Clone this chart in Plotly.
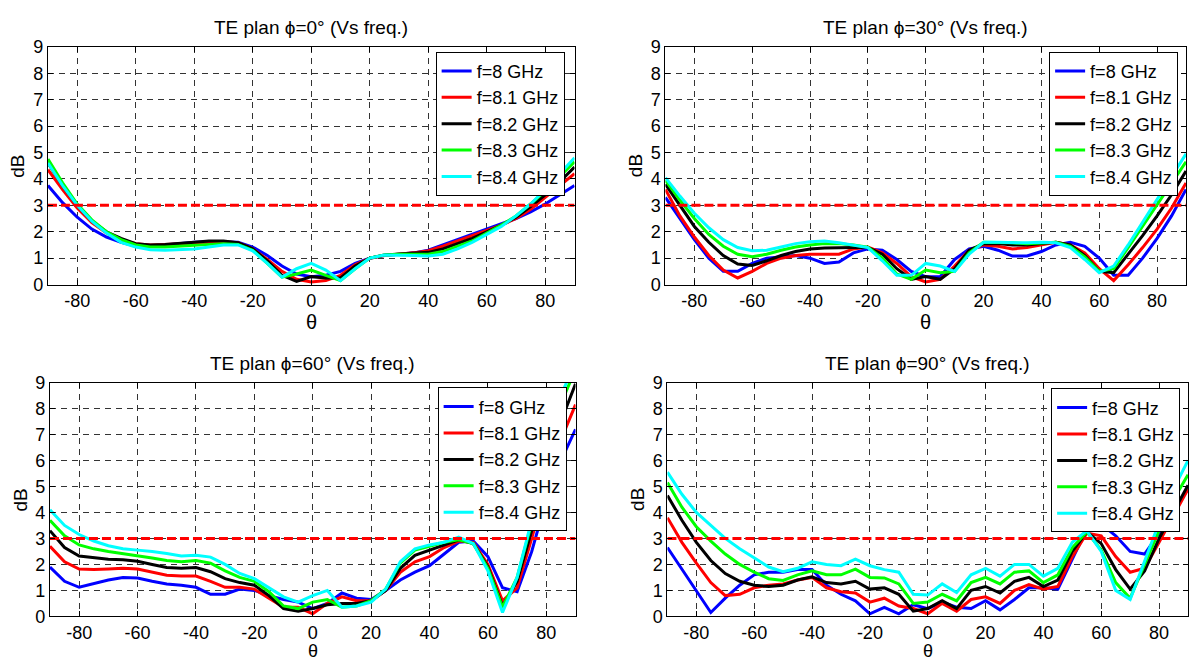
import plotly.graph_objects as go

theta = list(range(-90, 91, 5))
freq_labels = ["f=8 GHz", "f=8.1 GHz", "f=8.2 GHz", "f=8.3 GHz", "f=8.4 GHz"]
colors = ["#0000ff", "#ff0000", "#000000", "#00ff00", "#00ffff"]
titles = ["TE plan \u03d5=0° (Vs freq.)", "TE plan \u03d5=30° (Vs freq.)",
          "TE plan \u03d5=60° (Vs freq.)", "TE plan \u03d5=90° (Vs freq.)"]
threshold_x = [-90, 90]
threshold_y = [3, 3]
x_ticks = [-80, -60, -40, -20, 0, 20, 40, 60, 80]
x_tick_text = ["-80", "-60", "-40", "-20", "0", "20", "40", "60", "80"]
y_ticks = [0, 1, 2, 3, 4, 5, 6, 7, 8, 9]

# phi = 0 deg
phi0_f80 = [3.75, 3.1, 2.55, 2.1, 1.8, 1.6, 1.45, 1.45, 1.5, 1.55, 1.6, 1.62, 1.62, 1.6, 1.42, 1.1, 0.7, 0.4, 0.3, 0.35, 0.5, 0.8, 1.0, 1.1, 1.15, 1.2, 1.3, 1.5, 1.7, 1.9, 2.1, 2.3, 2.5, 2.75, 3.05, 3.4, 3.75]
phi0_f81 = [4.35, 3.6, 2.9, 2.35, 1.95, 1.7, 1.55, 1.5, 1.52, 1.55, 1.58, 1.6, 1.62, 1.58, 1.35, 0.95, 0.5, 0.2, 0.1, 0.15, 0.35, 0.75, 1.0, 1.1, 1.15, 1.2, 1.28, 1.45, 1.65, 1.85, 2.05, 2.25, 2.5, 2.85, 3.3, 3.75, 4.2]
phi0_f82 = [4.6, 3.75, 3.0, 2.4, 2.0, 1.75, 1.55, 1.5, 1.52, 1.55, 1.6, 1.65, 1.65, 1.58, 1.35, 0.9, 0.35, 0.12, 0.3, 0.25, 0.25, 0.7, 1.0, 1.12, 1.15, 1.18, 1.22, 1.35, 1.55, 1.75, 2.0, 2.25, 2.55, 2.95, 3.4, 3.9, 4.45]
phi0_f83 = [4.75, 3.85, 3.05, 2.45, 2.0, 1.7, 1.5, 1.42, 1.42, 1.45, 1.48, 1.52, 1.55, 1.52, 1.3, 0.8, 0.28, 0.4, 0.55, 0.35, 0.15, 0.6, 1.0, 1.12, 1.15, 1.15, 1.15, 1.25, 1.45, 1.65, 1.95, 2.25, 2.6, 3.05, 3.55, 4.1, 4.65]
phi0_f84 = [4.6, 3.75, 3.0, 2.4, 1.95, 1.6, 1.42, 1.32, 1.3, 1.32, 1.35, 1.42, 1.5, 1.5, 1.28, 0.8, 0.28, 0.6, 0.8, 0.55, 0.15, 0.6, 1.0, 1.12, 1.12, 1.1, 1.08, 1.15, 1.35, 1.6, 1.9, 2.2, 2.6, 3.05, 3.6, 4.2, 4.8]

# phi = 30 deg
phi30_f80 = [3.3, 2.5, 1.7, 1.0, 0.5, 0.5, 0.8, 1.0, 1.05, 1.1, 1.0, 0.8, 0.85, 1.2, 1.35, 1.3, 0.95, 0.5, 0.3, 0.3, 0.95, 1.35, 1.45, 1.3, 1.08, 1.08, 1.25, 1.5, 1.6, 1.45, 1.0, 0.35, 0.35, 1.0, 1.75, 2.6, 3.6]
phi30_f81 = [3.6, 2.6, 1.8, 1.1, 0.55, 0.25, 0.5, 0.8, 1.0, 1.1, 1.15, 1.15, 1.15, 1.35, 1.42, 1.2, 0.8, 0.3, 0.1, 0.2, 0.7, 1.3, 1.5, 1.45, 1.35, 1.4, 1.5, 1.6, 1.5, 1.2, 0.6, 0.15, 0.75, 1.4, 2.1, 2.9, 3.85]
phi30_f82 = [3.8, 3.0, 2.2, 1.6, 1.1, 0.78, 0.72, 0.9, 1.1, 1.25, 1.35, 1.38, 1.4, 1.4, 1.4, 1.15, 0.6, 0.2, 0.3, 0.2, 0.6, 1.3, 1.55, 1.55, 1.5, 1.5, 1.55, 1.6, 1.5, 1.1, 0.5, 0.45, 1.15, 1.85, 2.6, 3.4, 4.3]
phi30_f83 = [3.95, 3.2, 2.5, 1.9, 1.45, 1.15, 1.05, 1.15, 1.3, 1.42, 1.5, 1.55, 1.55, 1.5, 1.42, 1.0, 0.4, 0.2, 0.55, 0.45, 0.5, 1.2, 1.6, 1.6, 1.58, 1.55, 1.58, 1.6, 1.45, 1.05, 0.5, 0.6, 1.4, 2.2, 3.0, 3.8, 4.65]
phi30_f84 = [4.05, 3.35, 2.7, 2.15, 1.7, 1.4, 1.28, 1.3, 1.42, 1.55, 1.62, 1.65, 1.58, 1.5, 1.4, 0.9, 0.35, 0.35, 0.8, 0.7, 0.5, 1.15, 1.6, 1.6, 1.58, 1.58, 1.6, 1.58, 1.4, 0.95, 0.45, 0.7, 1.5, 2.35, 3.2, 4.05, 4.95]

# phi = 60 deg
phi60_f80 = [1.9, 1.35, 1.12, 1.25, 1.4, 1.5, 1.48, 1.35, 1.25, 1.2, 1.12, 0.85, 0.85, 1.05, 1.0, 0.8, 0.65, 0.55, 0.3, 0.5, 0.9, 0.7, 0.65, 1.0, 1.4, 1.7, 1.95, 2.4, 2.85, 2.9, 2.3, 1.1, 0.95, 2.5, 4.5, 6.0, 7.2]
phi60_f81 = [2.7, 2.1, 1.82, 1.8, 1.82, 1.85, 1.82, 1.7, 1.58, 1.55, 1.55, 1.35, 1.12, 1.12, 1.05, 0.7, 0.35, 0.35, 0.1, 0.5, 0.75, 0.6, 0.6, 1.0, 1.7, 2.1, 2.3, 2.65, 2.9, 2.85, 2.0, 0.6, 1.1, 3.0, 5.0, 6.8, 8.15]
phi60_f82 = [3.3, 2.65, 2.32, 2.25, 2.2, 2.18, 2.12, 2.0, 1.88, 1.85, 1.88, 1.72, 1.45, 1.3, 1.2, 0.8, 0.3, 0.2, 0.3, 0.45, 0.5, 0.5, 0.6, 1.0, 1.85, 2.35, 2.55, 2.75, 2.95, 2.8, 1.9, 0.4, 1.35, 3.3, 5.5, 7.5, 8.95]
phi60_f83 = [3.7, 3.1, 2.75, 2.6, 2.5, 2.42, 2.35, 2.25, 2.15, 2.1, 2.15, 2.05, 1.75, 1.5, 1.35, 0.95, 0.4, 0.3, 0.55, 0.65, 0.35, 0.4, 0.6, 1.05, 2.05, 2.55, 2.7, 2.85, 2.95, 2.8, 1.85, 0.35, 1.5, 3.6, 6.0, 8.2, 9.5]
phi60_f84 = [4.1, 3.5, 3.15, 2.9, 2.72, 2.6, 2.55, 2.5, 2.42, 2.32, 2.35, 2.28, 2.0, 1.65, 1.45, 1.1, 0.75, 0.55, 0.8, 1.0, 0.35, 0.4, 0.55, 1.05, 2.1, 2.6, 2.75, 2.85, 3.05, 2.8, 1.75, 0.15, 1.5, 3.7, 6.2, 8.5, 9.8]

# phi = 90 deg
phi90_f80 = [2.65, 1.8, 1.0, 0.15, 0.7, 1.2, 1.6, 1.7, 1.7, 1.8, 1.8, 1.2, 0.85, 0.6, 0.1, 0.35, 0.1, 0.45, 0.3, 0.55, 0.35, 0.3, 0.6, 0.25, 0.65, 1.1, 1.1, 1.05, 2.2, 3.35, 3.55, 3.1, 2.5, 2.4, 3.2, 4.1, 4.9]
phi90_f81 = [3.8, 2.85, 2.05, 1.3, 0.8, 0.85, 1.1, 1.2, 1.25, 1.4, 1.5, 1.1, 0.95, 0.9, 0.55, 0.7, 0.4, 0.3, 0.1, 0.5, 0.2, 0.65, 0.75, 0.5, 1.0, 1.22, 1.05, 1.15, 2.3, 3.2, 3.1, 2.3, 1.7, 1.85, 2.85, 3.9, 4.9]
phi90_f82 = [4.65, 3.7, 2.85, 2.15, 1.65, 1.35, 1.2, 1.15, 1.2, 1.4, 1.52, 1.3, 1.25, 1.35, 1.05, 1.1, 0.85, 0.2, 0.3, 0.6, 0.3, 1.0, 1.15, 0.9, 1.35, 1.5, 1.15, 1.4, 2.5, 3.25, 2.8, 1.8, 1.05, 1.75, 3.0, 4.0, 5.05]
phi90_f83 = [5.15, 4.2, 3.45, 2.9, 2.4, 2.0, 1.7, 1.45, 1.38, 1.6, 1.75, 1.6, 1.6, 1.82, 1.5, 1.48, 1.25, 0.5, 0.55, 0.85, 0.6, 1.3, 1.5, 1.25, 1.7, 1.75, 1.3, 1.6, 2.65, 3.25, 2.55, 1.3, 0.7, 2.0, 3.3, 4.5, 5.45]
phi90_f84 = [5.55, 4.7, 4.0, 3.5, 3.0, 2.6, 2.25, 1.9, 1.72, 1.85, 2.1, 2.0, 1.95, 2.2, 1.95, 1.8, 1.7, 0.85, 0.82, 1.25, 0.92, 1.6, 1.85, 1.55, 2.0, 2.0, 1.55, 1.85, 2.85, 3.3, 2.5, 1.0, 0.65, 2.1, 3.6, 4.9, 6.0]

panels = [
    [phi0_f80, phi0_f81, phi0_f82, phi0_f83, phi0_f84],
    [phi30_f80, phi30_f81, phi30_f82, phi30_f83, phi30_f84],
    [phi60_f80, phi60_f81, phi60_f82, phi60_f83, phi60_f84],
    [phi90_f80, phi90_f81, phi90_f82, phi90_f83, phi90_f84],
]

W, H = 1189, 671
# plot areas in pixels: (left, right, top, bottom)
areas = [(48, 575, 38, 283), (666, 1187, 38, 283), (50, 576, 384, 625), (668, 1189, 384, 625)]
legend_pos = [(436, 43), (1050, 43), (438, 389), (1052, 390)]
title_y = [18, 18, 364, 364]
xlabel_y = [322, 322, 661, 661]
xlabel_size = [20, 20, 18, 18]

FONT = "Liberation Sans, Arial, sans-serif"
fig = go.Figure()
layout = dict(width=W, height=H, margin=dict(l=0, r=0, t=0, b=0),
              paper_bgcolor="white", plot_bgcolor="white",
              font=dict(family=FONT, size=18, color="black"), annotations=[])

for i, series in enumerate(panels):
    n = i + 1
    xa = "x" if n == 1 else f"x{n}"
    ya = "y" if n == 1 else f"y{n}"
    lg = "legend" if n == 1 else f"legend{n}"
    for s, name, c in zip(series, freq_labels, colors):
        fig.add_trace(go.Scatter(x=theta, y=s, mode="lines", name=name,
                                 line=dict(color=c, width=3), xaxis=xa, yaxis=ya,
                                 legend=lg, showlegend=True))
    fig.add_trace(go.Scatter(x=threshold_x, y=threshold_y, mode="lines",
                             line=dict(color="#ff0000", width=3, dash="9px,4px"),
                             xaxis=xa, yaxis=ya, showlegend=False, hoverinfo="skip"))
    l, r, t, b = areas[i]
    xk = "xaxis" if n == 1 else f"xaxis{n}"
    yk = "yaxis" if n == 1 else f"yaxis{n}"
    layout[xk] = dict(domain=[l / W, min(r / W, 1.0)], anchor=ya, range=[-90, 90],
                      tickvals=x_ticks, ticktext=x_tick_text,
                      ticks="inside", ticklen=5, tickcolor="black",
                      showline=True, linecolor="black", linewidth=1, mirror="ticks",
                      showgrid=True, gridcolor="#333333", griddash="6px,5px", gridwidth=1,
                      zeroline=False, tickfont=dict(size=18, family=FONT, color="black"))
    layout[yk] = dict(domain=[1 - b / H, 1 - t / H], anchor=xa, range=[0, 9],
                      tickvals=y_ticks, ticks="inside", ticklen=5, tickcolor="black",
                      showline=True, linecolor="black", linewidth=1, mirror="ticks",
                      showgrid=True, gridcolor="#333333", griddash="6px,5px", gridwidth=1,
                      zeroline=False, tickfont=dict(size=18, family=FONT, color="black"))
    lx, ly = legend_pos[i]
    layout[lg] = dict(x=lx / W, y=1 - ly / H, xanchor="left", yanchor="top",
                      bgcolor="white", bordercolor="black", borderwidth=1,
                      font=dict(size=18, family=FONT, color="black"),
                      tracegroupgap=0, itemwidth=30)
    cx = (l + r) / 2
    layout["annotations"].append(dict(text=titles[i], x=cx / W, y=1 - title_y[i] / H,
                                      xref="paper", yref="paper", showarrow=False,
                                      xanchor="center", yanchor="middle",
                                      font=dict(size=19, family=FONT, color="black")))
    layout["annotations"].append(dict(text="\u03b8", x=cx / W, y=1 - xlabel_y[i] / H,
                                      xref="paper", yref="paper", showarrow=False,
                                      xanchor="center", yanchor="middle",
                                      font=dict(size=xlabel_size[i], family=FONT, color="black")))
    layout["annotations"].append(dict(text="dB", x=(l - 30) / W, y=1 - (t + b) / 2 / H,
                                      xref="paper", yref="paper", showarrow=False,
                                      textangle=-90, xanchor="center", yanchor="middle",
                                      font=dict(size=19, family=FONT, color="black")))

fig.update_layout(**layout)
fig.write_html("out.html", config={"displayModeBar": False, "staticPlot": True},
               post_script="document.body.style.margin='0';document.body.style.overflow='hidden';")
